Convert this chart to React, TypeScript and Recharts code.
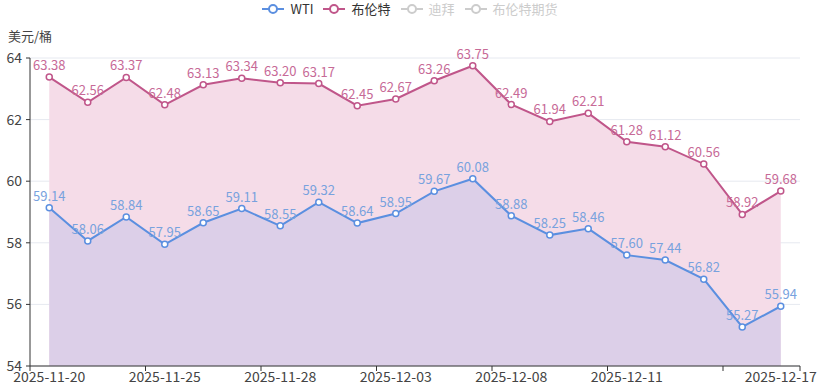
import React from 'react';
import { ComposedChart, Area, XAxis, YAxis, CartesianGrid, LabelList } from 'recharts';

const dates = [
  '2025-11-20', '2025-11-21', '2025-11-24', '2025-11-25', '2025-11-26',
  '2025-11-27', '2025-11-28', '2025-12-01', '2025-12-02', '2025-12-03',
  '2025-12-04', '2025-12-05', '2025-12-08', '2025-12-09', '2025-12-10',
  '2025-12-11', '2025-12-12', '2025-12-15', '2025-12-16', '2025-12-17',
];
const wti = [59.14, 58.06, 58.84, 57.95, 58.65, 59.11, 58.55, 59.32, 58.64, 58.95, 59.67, 60.08, 58.88, 58.25, 58.46, 57.6, 57.44, 56.82, 55.27, 55.94];
const brent = [63.38, 62.56, 63.37, 62.48, 63.13, 63.34, 63.2, 63.17, 62.45, 62.67, 63.26, 63.75, 62.49, 61.94, 62.21, 61.28, 61.12, 60.56, 58.92, 59.68];
const tickDates = ['2025-11-20', '2025-11-25', '2025-11-28', '2025-12-03', '2025-12-08', '2025-12-11', '2025-12-16', '2025-12-17'];
const hiddenTickLabels = ['2025-12-16'];
const yTicks = [54, 56, 58, 60, 62, 64];
const legendNames = ['WTI', '布伦特', '迪拜', '布伦特期货'];
const legendActive = [true, true, false, false];

const WTI_COLOR = '#5b8fe0';
const BRENT_COLOR = '#c0568a';
const INACTIVE = '#cccccc';
const FONT = '"Noto Sans CJK SC", "Noto Sans", sans-serif';

const data = dates.map((d, i) => ({ date: d, wti: wti[i], brent: brent[i] }));

const fmt = (v: any) => Number(v).toFixed(2);

const XTick = (props: any) => {
  const { x, y, payload } = props;
  const half = payload && payload.offset ? payload.offset : 19.25;
  const isLast = payload.value === dates[dates.length - 1];
  const lx = isLast ? x + half : x - half;
  return (
    <g>
      <line x1={lx} x2={lx} y1={y - 7} y2={y - 2} stroke="#333" strokeWidth={1} />
      {!hiddenTickLabels.includes(payload.value) && (
        <text x={x} y={y} dy="0.66em" textAnchor="middle" fill="#444" fontSize={14} fontFamily={FONT}>
          {payload.value}
        </text>
      )}
    </g>
  );
};

const LegendIcon = ({ color }: { color: string }) => (
  <svg width={22} height={12} style={{ display: 'block' }}>
    <line x1={0} x2={22} y1={6} y2={6} stroke={color} strokeWidth={2} />
    <circle cx={11} cy={6} r={4} fill="#fff" stroke={color} strokeWidth={2} />
  </svg>
);

export default function App() {
  const colors = [WTI_COLOR, BRENT_COLOR, INACTIVE, INACTIVE];
  return (
    <div style={{ position: 'absolute', left: 0, top: 0, width: 820, height: 389, background: '#fff', fontFamily: FONT }}>
      <div
        style={{
          position: 'absolute', left: 0, top: 1, width: 820, display: 'flex', justifyContent: 'center',
          alignItems: 'center', gap: 10, fontSize: 13, lineHeight: '16px',
        }}
      >
        {legendNames.map((n, i) => (
          <div key={n} style={{ display: 'flex', alignItems: 'center', gap: 6, color: legendActive[i] ? '#333' : INACTIVE }}>
            <LegendIcon color={colors[i]} />
            <span>{n}</span>
          </div>
        ))}
      </div>
      <ComposedChart width={820} height={389} data={data} margin={{ top: 58, right: 20, bottom: 0, left: 0 }}>
        <CartesianGrid horizontal vertical={false} stroke="#e6e9f0" />
        <XAxis
          dataKey="date"
          type="category"
          scale="band"
          ticks={tickDates}
          interval={0}
          height={23}
          tickSize={5}
          tickMargin={2}
          tickLine={false}
          axisLine={{ stroke: '#333' }}
          tick={<XTick />}
        />
        <YAxis
          type="number"
          domain={[54, 64]}
          ticks={yTicks}
          width={30}
          tickSize={4}
          tickMargin={4}
          tickLine={{ stroke: '#333' }}
          axisLine={{ stroke: '#333' }}
          tick={{ fill: '#444', fontSize: 14, fontFamily: FONT }}
          label={{
            content: () => (
              <text x={30} y={41} textAnchor="middle" fill="#444" fontSize={13} fontFamily={FONT}>美元/桶</text>
            ),
          }}
        />
        <Area
          type="linear"
          dataKey="brent"
          stroke={BRENT_COLOR}
          strokeWidth={2}
          fill="#f5dce8"
          fillOpacity={1}
          isAnimationActive={false}
          dot={{ r: 3, fill: '#fff', stroke: BRENT_COLOR, strokeWidth: 1.5 }}
          activeDot={false}
        >
          <LabelList dataKey="brent" position="top" offset={7} fill="#c76a97" fontSize={13} fontFamily={FONT} formatter={fmt} />
        </Area>
        <Area
          type="linear"
          dataKey="wti"
          stroke={WTI_COLOR}
          strokeWidth={2}
          fill="#dccfe8"
          fillOpacity={1}
          isAnimationActive={false}
          dot={{ r: 3, fill: '#fff', stroke: WTI_COLOR, strokeWidth: 1.5 }}
          activeDot={false}
        >
          <LabelList dataKey="wti" position="top" offset={7} fill="#78a2de" fontSize={13} fontFamily={FONT} formatter={fmt} />
        </Area>
      </ComposedChart>
    </div>
  );
}
